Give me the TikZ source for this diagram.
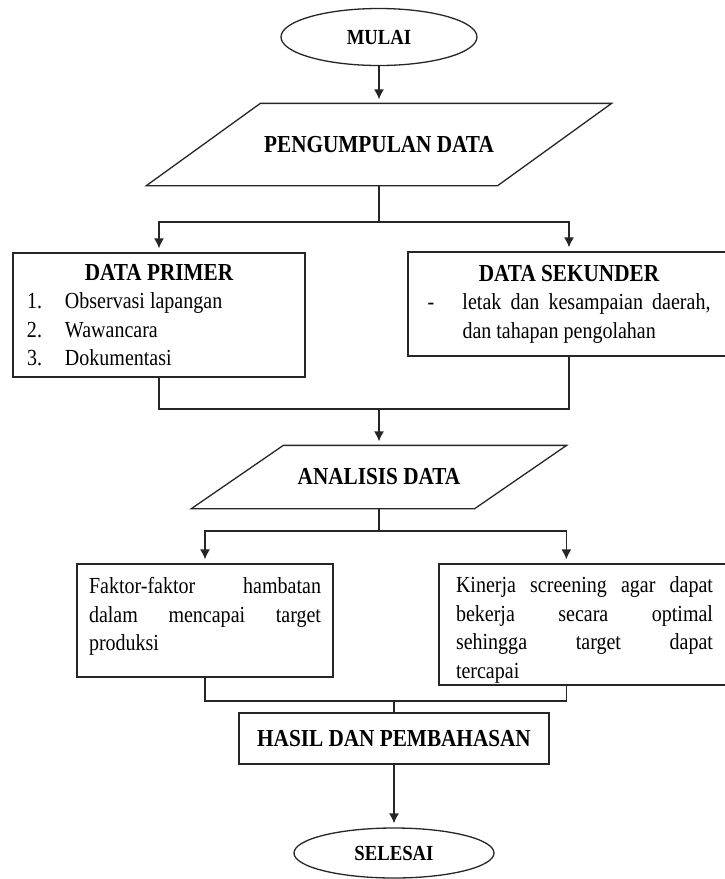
\documentclass[tikz,border=0pt]{standalone}
\usepackage{fontspec}
\setmainfont{Liberation Serif}[FakeStretch=0.87]
\usetikzlibrary{shapes.geometric, arrows.meta, calc}
\colorlet{garis}{black!85}
\newcommand{\judul}[1]{{\fontsize{24.4}{28.5}\selectfont\bfseries #1}}
\newcommand{\jajargenjang}[2]{%
  \draw[alur] ([xshift=#2]#1.north west) -- ([xshift=#2]#1.north east)
    -- ([xshift=-#2]#1.south east) -- ([xshift=-#2]#1.south west) -- cycle;}
\hyphenpenalty=10000
\exhyphenpenalty=10000
\tikzset{
  base/.style    ={draw=garis, line width=1.3pt, inner sep=0pt,
                   font=\fontsize{23}{28.5}\selectfont},
  ujung/.style   ={base, ellipse, font=\fontsize{21.5}{24}\selectfont\bfseries},
  kotak/.style   ={base, rectangle},
  proses/.style  ={kotak, align=justify},
  jajar/.style   ={kotak, draw=none},
  alur/.style    ={-, garis, line width=1.3pt},
  panah/.style   ={alur, -{Latex[length=10pt, width=10pt]}, shorten >=4pt},
}

\begin{document}
\begin{tikzpicture}[x=1pt, y=-1pt]
\useasboundingbox (0, 0) rectangle (724, 879);

\node[ujung, minimum width=196pt, minimum height=57pt] (mulai) at (379, 37) {MULAI};
\node[jajar, minimum width=350pt, minimum height=81pt] (kumpul) at (379, 144.5)
  {\judul{PENGUMPULAN DATA}};
\jajargenjang{kumpul}{57pt}
\draw[panah] (mulai.south) -- (kumpul.north);

% data primer dan sekunder
\node[proses, text width=264pt, minimum width=292pt, minimum height=124pt] (primer)
  at (159, 315) {{\centering\judul{DATA PRIMER}\par}
  \makebox[38pt][l]{1.}Observasi lapangan\par
  \makebox[38pt][l]{2.}Wawancara\par
  \makebox[38pt][l]{3.}Dokumentasi};
\node[proses, text width=283pt, minimum width=322pt, minimum height=104pt] (sekunder)
  at (569, 304) {{\centering\judul{DATA SEKUNDER}\par}
  \makebox[35pt][l]{-}letak dan kesampaian daerah,\linebreak
  \hspace*{35pt}dan tahapan pengolahan};

\coordinate (bagi1) at (379, 222);
\draw[alur]  (kumpul.south) -- (bagi1);
\draw[panah] (bagi1) -| (primer.north);
\draw[panah] (bagi1) -| (sekunder.north);

\node[jajar, minimum width=282pt, minimum height=62pt] (analisis) at (379, 477)
  {\judul{ANALISIS DATA}};
\jajargenjang{analisis}{46pt}
\coordinate (gabung1) at (379, 409);
\draw[alur]  (primer.south) |- (gabung1);
\draw[alur]  (sekunder.south) |- (gabung1);
\draw[panah] (gabung1) -- (analisis.north);

% hasil analisis
\node[proses, text width=232pt, minimum width=256pt, minimum height=113pt,
      text depth=70pt] (faktor) at (205, 620.5)
  {Faktor-faktor hambatan\linebreak dalam mencapai target\linebreak produksi};
\node[proses, text width=257pt, minimum width=291pt, minimum height=121pt,
      text depth=79pt] (kinerja) at (584.5, 624.5)
  {Kinerja screening agar dapat\linebreak bekerja secara optimal\linebreak
   sehingga target dapat\linebreak tercapai};

\coordinate (bagi2) at (379, 531);
\draw[alur]  (analisis.south) -- (bagi2);
\draw[panah] (bagi2) -| (faktor.north);
\draw[panah] (bagi2) -| ([xshift=128pt]kinerja.north west);

\node[kotak, minimum width=310pt, minimum height=51pt] (hasil) at (394, 738.5)
  {\judul{HASIL DAN PEMBAHASAN}};
\coordinate (gabung2) at (394, 701);
\draw[alur] (faktor.south) |- (gabung2);
\draw[alur] ([xshift=128pt]kinerja.south west) |- (gabung2);
\draw[alur] (gabung2) -- (hasil.north);

\node[ujung, minimum width=200pt, minimum height=50pt] (selesai) at (394, 853) {SELESAI};
\draw[panah] (hasil.south) -- (selesai.north);

\end{tikzpicture}
\end{document}
